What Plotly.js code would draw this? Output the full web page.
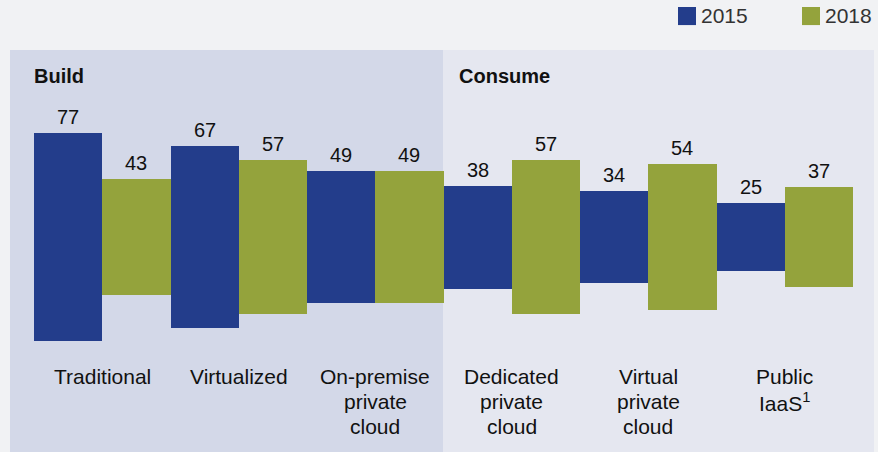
<!DOCTYPE html>
<html>
<head>
<meta charset="utf-8">
<script src="https://cdn.plot.ly/plotly-3.0.1.min.js"></script>
<style>html,body{margin:0;padding:0;background:#f1f2f4;}#chart{width:878px;height:452px;}</style>
</head>
<body>
<div id="chart"></div>
<script>
const categories = ['Traditional', 'Virtualized', 'On-premise<br>private<br>cloud', 'Dedicated<br>private<br>cloud', 'Virtual<br>private<br>cloud', 'Public<br>IaaS<sup>1</sup>'];
const seriesNames = ['2015', '2018'];
const values2015 = [77, 67, 49, 38, 34, 25];
const values2018 = [43, 57, 49, 57, 54, 37];
const groupNames = ['Build', 'Consume'];

const colors = ['#233d8b', '#94a33c'];
const font = 'Liberation Sans, Arial, Helvetica, sans-serif';
const allValues = [values2015, values2018];

const traces = allValues.map((vals, i) => ({
  type: 'bar',
  name: seriesNames[i],
  x: categories,
  y: vals,
  base: vals.map(v => -v / 2),
  marker: {color: colors[i], line: {width: 0}},
  hoverinfo: 'skip',
  showlegend: false
}));

const annotations = [];
// value labels above each bar
allValues.forEach((vals, i) => {
  vals.forEach((v, j) => {
    annotations.push({
      x: j + (i === 0 ? -0.25 : 0.25), xref: 'x', y: v / 2, yref: 'y',
      text: String(v), showarrow: false, yanchor: 'bottom', xanchor: 'center', yshift: 3,
      font: {family: font, size: 20, color: '#111'}
    });
  });
});
// category labels, one annotation per line
categories.forEach((c, j) => {
  c.split('<br>').forEach((line, k) => {
    annotations.push({
      x: j, xref: 'x', y: -51.55, yref: 'y', yshift: -25 * k, text: line, showarrow: false,
      yanchor: 'middle', xanchor: 'center', align: 'center',
      font: {family: font, size: 21, color: '#111'}
    });
  });
});
// group headings
const groupX = [-0.0024, 0.5165];
groupNames.forEach((g, k) => {
  annotations.push({
    x: groupX[k], xref: 'paper', y: 0.936, yref: 'paper', text: '<b>' + g + '</b>',
    showarrow: false, xanchor: 'left', yanchor: 'middle',
    font: {family: font, size: 20, color: '#111'}
  });
});
// legend text
const legTextX = [0.812, 0.9634];
seriesNames.forEach((s, i) => {
  annotations.push({
    x: legTextX[i], xref: 'paper', y: 1.0846, yref: 'paper', text: s,
    showarrow: false, xanchor: 'left', yanchor: 'middle',
    font: {family: font, size: 21, color: '#333'}
  });
});

const shapes = [
  {type: 'rect', xref: 'paper', yref: 'paper', x0: -0.0293, x1: 0.4994, y0: 0, y1: 1,
   fillcolor: '#d3d8e8', line: {width: 0}, layer: 'below'},
  {type: 'rect', xref: 'paper', yref: 'paper', x0: 0.4994, x1: 1.0256, y0: 0, y1: 1,
   fillcolor: '#e5e7f0', line: {width: 0}, layer: 'below'}
];
const legSqX = [0.7863, 0.9377];
seriesNames.forEach((s, i) => {
  shapes.push({type: 'rect', xref: 'paper', yref: 'paper', x0: legSqX[i], x1: legSqX[i] + 0.022,
    y0: 1.062, y1: 1.107, fillcolor: colors[i], line: {width: 0}});
});

const layout = {
  width: 878, height: 452,
  margin: {l: 34, r: 25, t: 50, b: 0, pad: 0},
  paper_bgcolor: '#f1f2f4',
  plot_bgcolor: 'rgba(0,0,0,0)',
  barmode: 'group', bargap: 0, bargroupgap: 0,
  xaxis: {type: 'category', range: [-0.5, 5.5], visible: false, fixedrange: true},
  yaxis: {range: [-79.3, 69.0], visible: false, fixedrange: true},
  showlegend: false,
  annotations: annotations,
  shapes: shapes
};

Plotly.newPlot('chart', traces, layout, {displayModeBar: false, staticPlot: true});
</script>
</body>
</html>
